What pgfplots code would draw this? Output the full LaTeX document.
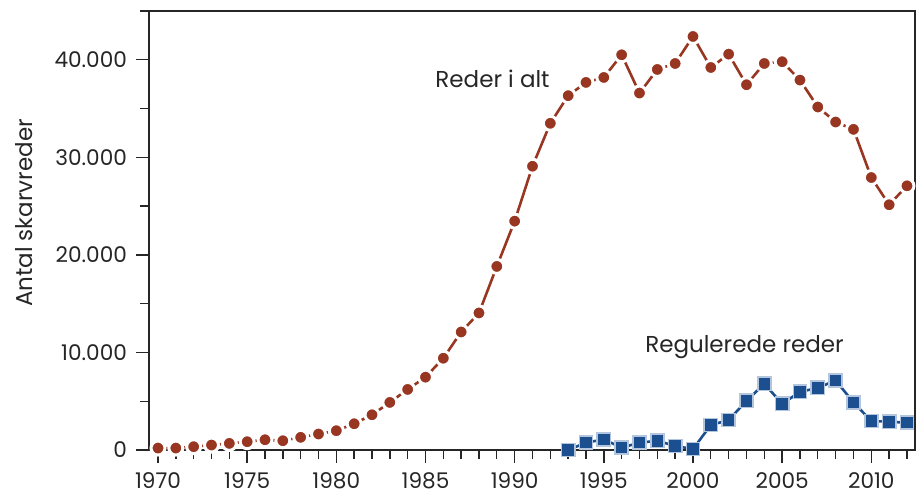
\documentclass[border=0pt]{standalone}
\usepackage{fontspec}
\setmainfont{Poppins}
\usepackage{pgfplots}
\pgfplotsset{compat=1.18}
\definecolor{redc}{HTML}{983621}
\definecolor{bluec}{HTML}{1B4F8F}
\definecolor{blueedge}{HTML}{B4C6DD}
\begin{document}
\begin{tikzpicture}
\begin{axis}[
  scale only axis,
  width=383pt, height=219.5pt,
  xmin=1969.495, xmax=2012.45,
  ymin=0, ymax=45000,
  clip=false,
  axis line style={line width=0.7pt, black!85},
  xtick={1970,1975,...,2010},
  minor xtick={1970,...,2012},
  ytick={0,10000,20000,30000,40000},
  minor ytick={5000,15000,25000,35000,45000},
  scaled y ticks=false,
  tick style={line width=0.7pt, black!85},
  tick align=outside,
  major tick length=6.5pt,
  minor tick length=4.5pt,
  xtick pos=bottom, ytick pos=left,
  /pgf/number format/assume math mode=true,
  /pgf/number format/1000 sep={.},
  xticklabel={\pgfmathprintnumber[1000 sep={}]{\tick}},
  ticklabel style={font=\fontsize{10.8}{12}\selectfont, black!85},
  xticklabel style={yshift=-3.5pt, text depth=0pt, inner sep=1pt},
  yticklabel style={xshift=-1pt},
  ylabel={Antal skarvreder},
  ylabel style={at={(axis description cs:0,0.54)}, anchor=center, yshift=62.5pt, font=\fontsize{11.5}{13}\selectfont, black!85},
]
\addplot[redc, line width=1.3pt, mark=*, mark size=3.5pt,
  mark options={draw=white, fill=redc, line width=1.5pt}] coordinates {
(1970,200) (1971,200) (1972,340) (1973,510) (1974,680) (1975,850)
(1976,1050) (1977,950) (1978,1300) (1979,1640) (1980,1980) (1981,2690)
(1982,3610) (1983,4880) (1984,6210) (1985,7470) (1986,9410) (1987,12100)
(1988,14050) (1989,18820) (1990,23460) (1991,29090) (1992,33490) (1993,36320)
(1994,37680) (1995,38190) (1996,40510) (1997,36590) (1998,39010) (1999,39620)
(2000,42390) (2001,39210) (2002,40580) (2003,37440) (2004,39620) (2005,39800)
(2006,37920) (2007,35160) (2008,33620) (2009,32870) (2010,27930) (2011,25140)
(2012,27080)
};
\addplot[bluec, line width=1.3pt, mark=square*, mark size=3.3pt,
  mark options={draw=blueedge, fill=bluec, line width=0.8pt}] coordinates {
(1993,0) (1994,750) (1995,1090) (1996,240) (1997,750) (1998,950)
(1999,410) (2000,100) (2001,2560) (2002,3070) (2003,5040) (2004,6780)
(2005,4740) (2006,5960) (2007,6370) (2008,7130) (2009,4880) (2010,2970)
(2011,2900) (2012,2800)
};
\node[anchor=base, font=\fontsize{11.5}{13}\selectfont, black!85] at (axis cs:1988.76,37166) {Reder i alt};
\node[anchor=base, font=\fontsize{11.5}{13}\selectfont, black!85] at (axis cs:2002.89,10026) {Regulerede reder};
\end{axis}
\pgfresetboundingbox
\path ([xshift=-74.5pt,yshift=-22.5pt]current axis.south west) rectangle ([xshift=0.5pt,yshift=5.5pt]current axis.north east);
\end{tikzpicture}
\end{document}
